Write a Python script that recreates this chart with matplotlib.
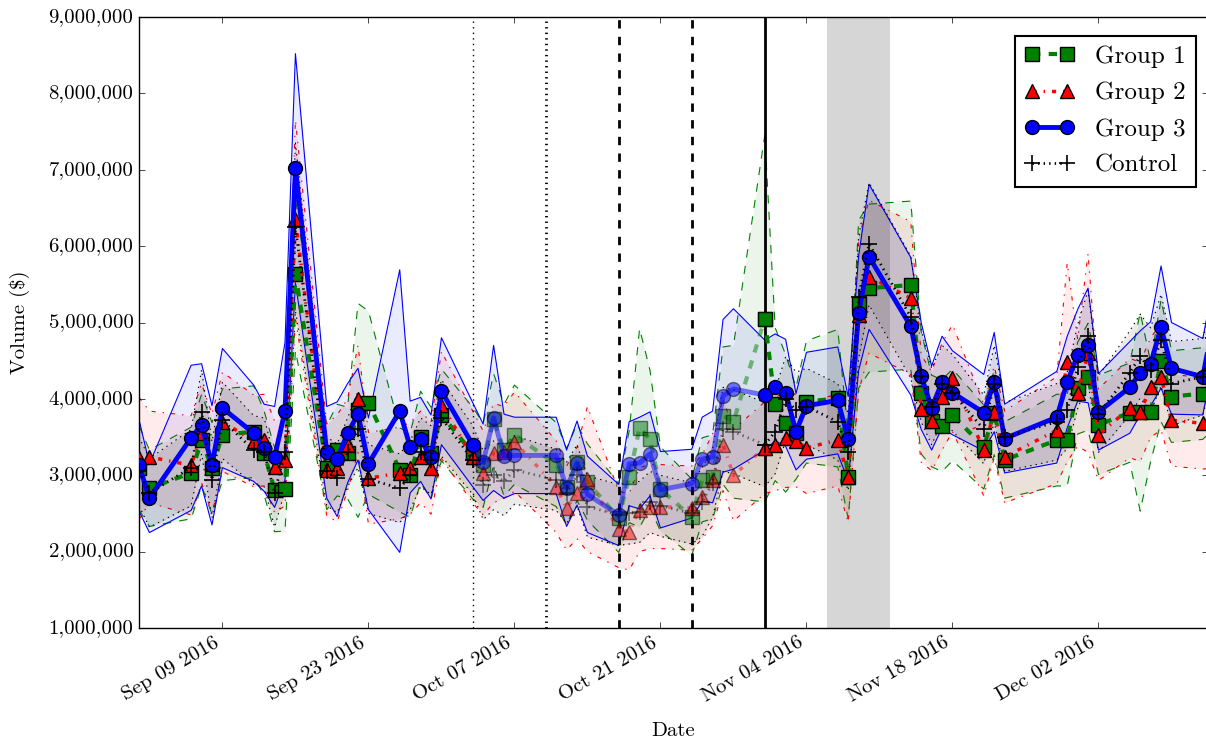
#!/usr/bin/env python3
"""Daily volume by group with spread bands."""

from datetime import datetime

import matplotlib
matplotlib.use("Agg")
import matplotlib.dates as mdates
import matplotlib.pyplot as plt
import numpy as np
from matplotlib.ticker import FuncFormatter

plt.style.use("classic")
plt.rcParams["font.family"] = ["cmr10", "DejaVu Serif"]
plt.rcParams["mathtext.fontset"] = "cm"
plt.rcParams["axes.unicode_minus"] = False

dates = [
    "2016-09-01", "2016-09-02", "2016-09-06", "2016-09-07", "2016-09-08", "2016-09-09",
    "2016-09-12", "2016-09-13", "2016-09-14", "2016-09-15", "2016-09-16",
    "2016-09-19", "2016-09-20", "2016-09-21", "2016-09-22", "2016-09-23",
    "2016-09-26", "2016-09-27", "2016-09-28", "2016-09-29", "2016-09-30",
    "2016-10-03", "2016-10-04", "2016-10-05", "2016-10-06", "2016-10-07",
    "2016-10-11", "2016-10-12", "2016-10-13", "2016-10-14",
    "2016-10-17", "2016-10-18", "2016-10-19", "2016-10-20", "2016-10-21",
    "2016-10-24", "2016-10-25", "2016-10-26", "2016-10-27", "2016-10-28",
    "2016-10-31", "2016-11-01", "2016-11-02", "2016-11-03", "2016-11-04",
    "2016-11-07", "2016-11-08", "2016-11-09", "2016-11-10",
    "2016-11-14", "2016-11-15", "2016-11-16", "2016-11-17", "2016-11-18",
    "2016-11-21", "2016-11-22", "2016-11-23",
    "2016-11-28", "2016-11-29", "2016-11-30", "2016-12-01", "2016-12-02",
    "2016-12-05", "2016-12-06", "2016-12-07", "2016-12-08", "2016-12-09",
    "2016-12-12", "2016-12-13",
]

# mean volume, millions
group1 = [3.10, 2.83, 3.03, 3.46, 3.09, 3.53, 3.57, 3.29, 2.81, 2.82, 5.63, 3.10, 3.33, 3.29, 3.85, 3.95, 3.07, 3.00, 3.50, 3.29, 3.79,
          3.29, 3.13, 3.73, 3.33, 3.53,
          3.14, 2.85, 3.17, 2.91,
          2.44, 2.98, 3.62, 3.47, 2.82,
          2.45, 2.94, 2.98, 3.78, 3.70,
          5.05, 3.93, 3.68, 3.55, 3.96,
          4.01, 2.98, 5.24, 5.45,
          5.49, 4.08, 3.71, 3.65, 3.79,
          3.37, 3.82, 3.20,
          3.46, 3.46, 4.14, 4.29, 3.66,
          3.82, 3.83, 3.83, 4.50, 4.03,
          4.07, 4.20]
group2 = [3.22, 3.24, 3.13, 3.55, 3.15, 3.70, 3.45, 3.46, 3.11, 3.20, 6.35, 3.07, 3.09, 3.40, 4.00, 2.96, 3.03, 3.09, 3.24, 3.09, 3.92,
          3.24, 3.03, 3.29, 3.30, 3.44,
          2.85, 2.57, 2.77, 2.95,
          2.29, 2.26, 2.55, 2.59, 2.59,
          2.57, 2.72, 2.94, 3.40, 3.00,
          3.36, 3.40, 3.49, 3.45, 3.36,
          3.46, 2.98, 5.10, 5.60,
          5.32, 3.87, 3.71, 4.03, 4.27,
          3.33, 3.83, 3.24,
          3.59, 4.48, 4.08, 4.60, 3.53,
          3.88, 3.83, 4.15, 4.29, 3.72,
          3.68, 3.70]
group3 = [3.13, 2.70, 3.49, 3.66, 3.13, 3.88, 3.55, 3.36, 3.24, 3.84, 7.02, 3.30, 3.21, 3.55, 3.80, 3.15, 3.84, 3.37, 3.47, 3.24, 4.10,
          3.40, 3.17, 3.75, 3.25, 3.26,
          3.26, 2.83, 3.16, 2.75,
          2.48, 3.15, 3.16, 3.28, 2.81,
          2.89, 3.21, 3.24, 4.04, 4.13,
          4.05, 4.15, 4.08, 3.57, 3.91,
          3.98, 3.48, 5.12, 5.86,
          4.95, 4.30, 3.88, 4.22, 4.08,
          3.82, 4.22, 3.48,
          3.76, 4.22, 4.57, 4.70, 3.83,
          4.15, 4.34, 4.46, 4.94, 4.40,
          4.29, 5.00]
control = [3.05, 2.77, 3.10, 3.83, 2.94, 3.72, 3.33, 3.30, 2.77, 3.30, 6.25, 3.05, 2.96, 3.30, 3.60, 2.95, 2.83, 3.00, 3.30, 3.20, 3.75,
           3.20, 2.87, 3.00, 2.92, 3.07,
           2.94, 2.77, 3.00, 2.59,
           2.48, 2.50, 2.52, 2.65, 2.60,
           2.50, 2.65, 2.90, 3.60, 3.57,
           3.40, 3.57, 4.00, 3.85, 3.90,
           3.70, 3.30, 5.33, 6.03,
           5.07, 4.30, 3.90, 4.20, 4.08,
           3.60, 4.20, 3.50,
           3.70, 3.85, 4.42, 4.82, 3.80,
           4.34, 4.56, 4.38, 4.77, 4.20,
           4.29, 4.80]

# spread (half band width), millions
group1_sd = [0.55, 0.5, 0.6, 0.6, 0.6, 0.6, 0.6, 0.55, 0.55, 0.55, 1.0, 0.55, 0.6, 0.6, 1.4, 1.2, 0.55, 0.55, 0.6, 0.6, 0.6,
             0.6, 0.55, 0.6, 0.6, 0.65,
             0.55, 0.5, 0.5, 0.5,
             0.45, 0.6, 1.3, 0.9, 0.55,
             0.5, 0.55, 0.55, 0.9, 1.0,
             2.4, 1.0, 0.9, 0.6, 0.8,
             0.9, 0.55, 1.1, 1.1,
             1.1, 0.8, 0.6, 0.6, 0.6,
             0.55, 0.55, 0.5,
             0.6, 0.6, 0.6, 0.7, 0.65,
             0.65, 1.3, 0.65, 0.8, 0.6,
             0.6, 0.6]
group2_sd = [0.8, 0.6, 0.65, 0.65, 0.65, 0.65, 0.6, 0.6, 0.6, 0.6, 1.3, 0.6, 0.7, 0.6, 0.7, 0.6, 0.6, 0.6, 0.6, 0.6, 0.7,
             0.6, 0.55, 0.65, 0.6, 0.65,
             0.6, 0.55, 0.6, 0.95,
             0.5, 0.5, 0.55, 0.55, 0.55,
             0.55, 0.55, 0.6, 0.6, 0.6,
             0.6, 0.6, 0.65, 0.6, 0.6,
             0.6, 0.6, 1.0, 1.0,
             1.0, 0.7, 0.65, 0.7, 0.7,
             0.6, 0.6, 0.6,
             0.7, 1.3, 0.7, 1.3, 0.6,
             0.65, 0.65, 0.65, 0.7, 0.6,
             0.6, 0.6]
group3_sd = [0.6, 0.45, 0.95, 0.8, 0.78, 0.78, 0.63, 0.57, 0.66, 0.9, 1.5, 0.6, 0.75, 0.65, 0.6, 0.6, 1.85, 0.6, 0.55, 0.55, 0.7,
             0.55, 0.5, 0.95, 0.55, 0.5,
             0.5, 0.5, 0.55, 0.5,
             0.4, 0.55, 0.6, 0.55, 0.5,
             0.45, 0.55, 0.6, 1.0, 1.05,
             0.72, 0.7, 0.7, 0.5, 0.7,
             0.7, 0.55, 0.75, 0.95,
             0.9, 0.7, 0.55, 0.6, 0.55,
             0.5, 0.65, 0.45,
             0.6, 0.6, 0.6, 0.75, 0.5,
             0.6, 0.55, 0.55, 0.8, 0.6,
             0.5, 0.5]
control_sd = [0.45, 0.45, 0.5, 0.55, 0.5, 0.5, 0.45, 0.45, 0.45, 0.5, 1.1, 0.45, 0.45, 0.45, 0.5, 0.45, 0.45, 0.45, 0.45, 0.45, 0.5,
              0.45, 0.45, 0.45, 0.45, 0.45,
              0.4, 0.4, 0.4, 0.4,
              0.4, 0.4, 0.4, 0.4, 0.4,
              0.4, 0.45, 0.45, 0.55, 0.55,
              0.55, 0.55, 0.55, 0.5, 0.5,
              0.5, 0.5, 0.8, 0.8,
              0.8, 0.6, 0.5, 0.5, 0.5,
              0.45, 0.5, 0.45,
              0.5, 0.5, 0.55, 0.6, 0.5,
              0.55, 0.55, 0.55, 0.6, 0.55,
              0.5, 0.5]

series_names = ["Group 1", "Group 2", "Group 3", "Control"]
tick_dates = ["2016-09-09", "2016-09-23", "2016-10-07", "2016-10-21",
              "2016-11-04", "2016-11-18", "2016-12-02"]
event_dates = ["2016-10-03", "2016-10-10", "2016-10-17", "2016-10-24", "2016-10-31"]
shade_range = ["2016-11-06", "2016-11-12"]
fade_range = ["2016-10-03", "2016-10-31"]


def to_dt(s: str) -> datetime:
    return datetime.strptime(s, "%Y-%m-%d")


def main() -> None:
    x = np.array([to_dt(d) for d in dates])
    xd = np.array([np.datetime64(d) for d in dates])

    fig = plt.figure(figsize=(12.06, 7.42), dpi=100, facecolor="white")
    ax = fig.add_axes([139 / 1206, 1 - 628 / 742, (1208 - 139) / 1206, (628 - 17) / 742])
    ax.set_facecolor("white")

    styles = [
        dict(color="green", ls="--", lw=3, marker="s", ms=10, band_ls="--"),
        dict(color="red", ls="-.", lw=2.5, marker="^", ms=10, band_ls="-."),
        dict(color="blue", ls="-", lw=3.5, marker="o", ms=10, band_ls="-"),
        dict(color="black", ls=":", lw=2, marker="+", ms=11, band_ls=":"),
    ]
    means = [group1, group2, group3, control]
    spreads = [group1_sd, group2_sd, group3_sd, control_sd]

    f0, f1 = np.datetime64(fade_range[0]), np.datetime64(fade_range[1])
    solid_a = xd <= f0
    solid_b = xd >= f1
    fade = (xd >= f0) & (xd <= f1)

    for name, mean, sd, st in zip(series_names, means, spreads, styles):
        m = np.array(mean) * 1e6
        s = np.array(sd) * 1e6
        lo, hi = m - s, m + s
        ax.fill_between(x, lo, hi, color=st["color"], alpha=0.08, lw=0, zorder=2)
        ax.plot(x, hi, color=st["color"], ls=st["band_ls"], lw=0.8, zorder=2)
        ax.plot(x, lo, color=st["color"], ls=st["band_ls"], lw=0.8, zorder=2)

        kw = dict(color=st["color"], ls=st["ls"], lw=st["lw"], marker=st["marker"],
                  ms=st["ms"], mec="black", mfc=st["color"], mew=1, zorder=4)
        if st["marker"] == "+":
            kw["mew"] = 1.2
        ax.plot(x[solid_a], m[solid_a], label=name, **kw)
        ax.plot(x[solid_b], m[solid_b], **kw)
        ax.plot(x[fade], m[fade], alpha=0.5, **kw)

    ev_styles = [(":", 1.0), (":", 2.0), ("--", 2.0), ("--", 2.0), ("-", 2.0)]
    for d, (ls, lw) in zip(event_dates, ev_styles):
        ax.axvline(to_dt(d), color="black", ls=ls, lw=lw, zorder=3)
    ax.axvspan(to_dt(shade_range[0]), to_dt(shade_range[1]),
               color="#d6d6d6", lw=0, zorder=1)

    ax.set_xlim(datetime(2016, 9, 1), datetime(2016, 12, 12, 12))
    ax.set_ylim(1e6, 9e6)
    ax.set_xticks([to_dt(d) for d in tick_dates])
    ax.xaxis.set_major_formatter(mdates.DateFormatter("%b %d %Y"))
    ax.yaxis.set_major_formatter(FuncFormatter(lambda v, p: f"{int(v):,}"))
    ax.tick_params(labelsize=15)
    for lab in ax.get_xticklabels():
        lab.set_rotation(30)
        lab.set_ha("right")

    ax.set_xlabel("Date", fontsize=15, labelpad=12)
    ax.set_ylabel(r"Volume (\$)", fontsize=15, labelpad=13)

    leg = ax.legend(loc="upper right", fontsize=18, numpoints=2, borderaxespad=0.5,
                    labelspacing=0.55, bbox_to_anchor=(1.0, 0.99))
    leg.get_frame().set_linewidth(1.5)

    fig.savefig("out.png", dpi=100, facecolor="white")
    print("Saved: out.png")


if __name__ == "__main__":
    main()
